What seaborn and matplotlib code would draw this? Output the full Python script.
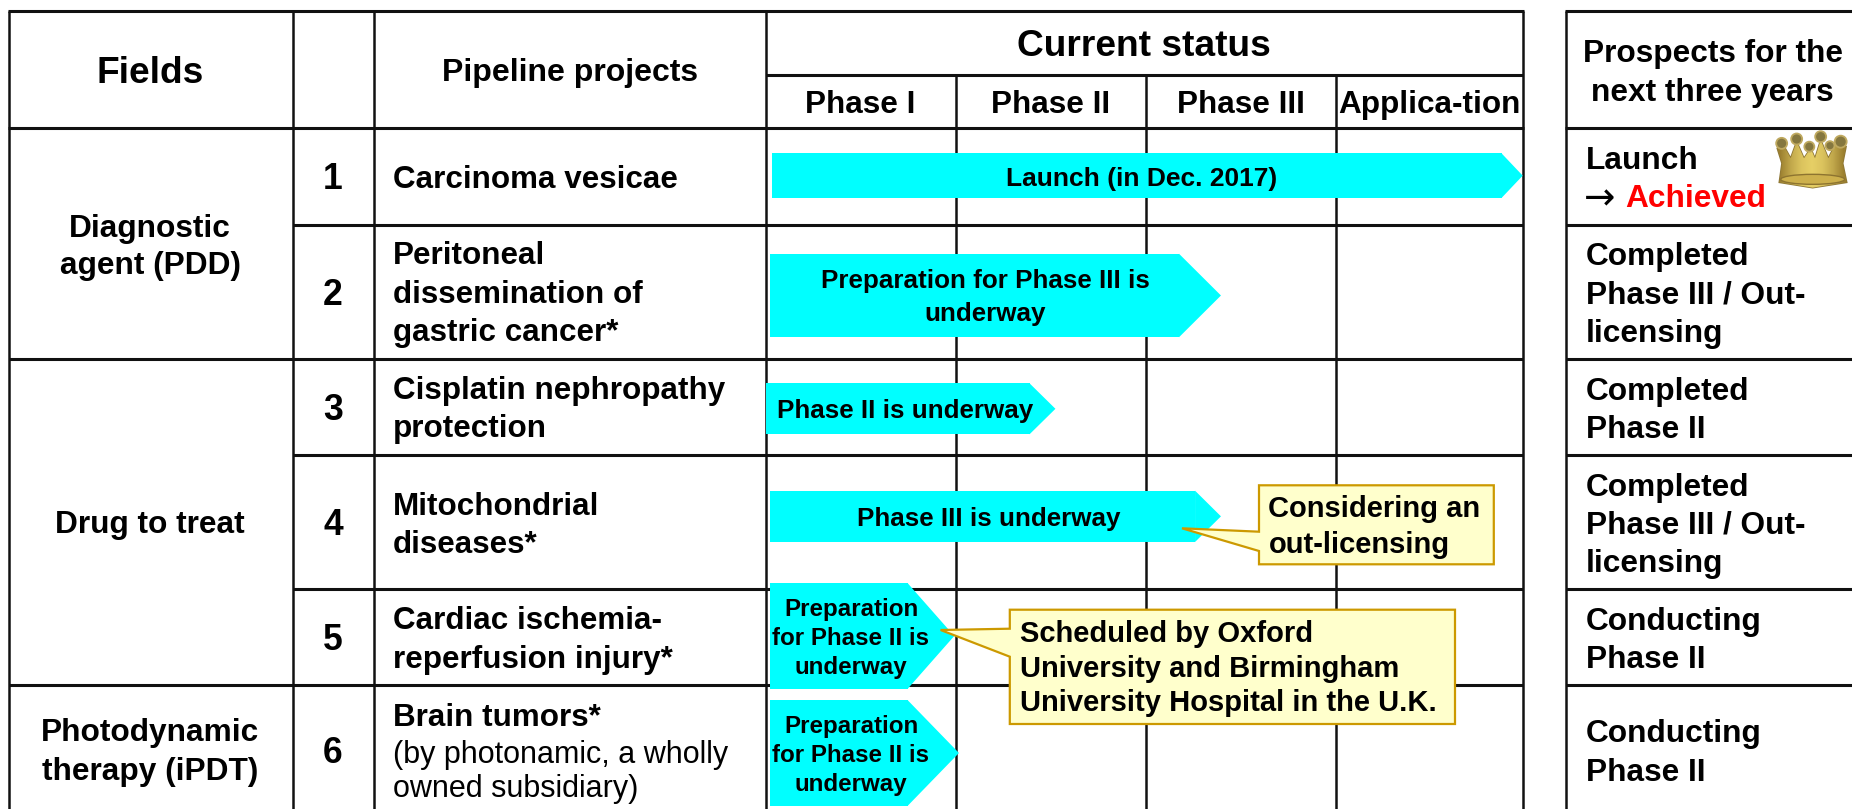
import numpy as np
import pandas as pd
import matplotlib
matplotlib.use("Agg")
import matplotlib.pyplot as plt
from matplotlib.patches import Polygon, Ellipse, Circle
import seaborn as sns

# ---- content ----
fields = [("Diagnostic", 236.7), ("agent (PDD)", 274), ("Drug to treat", 533),
          ("Photodynamic", 740.7), ("therapy (iPDT)", 780)]
numbers = ["1", "2", "3", "4", "5", "6"]
number_baselines = [189, 305, 420, 535, 650, 762.7]
projects = [("Carcinoma vesicae", 188.3), ("Peritoneal", 264), ("dissemination of", 302.7),
            ("gastric cancer*", 340.7), ("Cisplatin nephropathy", 399.3), ("protection", 437.3),
            ("Mitochondrial", 515), ("diseases*", 552.7), ("Cardiac ischemia-", 629),
            ("reperfusion injury*", 667.7), ("Brain tumors*", 726)]
project_notes = [("(by photonamic, a wholly", 762.7), ("owned subsidiary)", 796.7)]
phases = ["Phase I", "Phase II", "Phase III", "Applica-tion"]
phase_centres = [860.5, 1051, 1240.6, 1429]
prospects_head = [("Prospects for the", 62.3), ("next three years", 100.7)]
prospects = [("Launch", 169.3), ("Completed", 265), ("Phase III / Out-", 303.3), ("licensing", 341.7),
             ("Completed", 400), ("Phase II", 437.7), ("Completed", 496), ("Phase III / Out-", 533.3),
             ("licensing", 572.3), ("Conducting", 630), ("Phase II", 667.7),
             ("Conducting", 741.7), ("Phase II", 780.7)]

# progress arrows, in phase units (0 = start of Phase I, 4 = end of Application)
arrow_start = [0.03, 0.02, 0.0, 0.02, 0.02, 0.02]
arrow_shoulder = [3.89, 2.185, 1.395, 2.27, 0.75, 0.75]
arrow_tip = [4.0, 2.405, 1.53, 2.405, 0.995, 1.02]
arrow_top = [153.3, 253.7, 383.3, 490.7, 583, 700]
arrow_bottom = [198, 337.3, 434.3, 542, 689, 806]
arrow_labels = [[("Launch (in Dec. 2017)", 1142, 186)],
                [("Preparation for Phase III is", 985, 288.3), ("underway", 985, 320.7)],
                [("Phase II is underway", 905, 418)],
                [("Phase III is underway", 989, 526)],
                [("Preparation", 851, 616), ("for Phase II is", 851, 645), ("underway", 851, 674)],
                [("Preparation", 851, 733), ("for Phase II is", 851, 762), ("underway", 851, 790.7)]]

callout_lines = [[("Considering an", 517.3), ("out-licensing", 552.7)],
                 [("Scheduled by Oxford", 641.7), ("University and Birmingham", 676.7),
                  ("University Hospital in the U.K.", 711)]]

# ---- table layout (pixels) ----
W, H = 1852, 809
X_L, X_F, X_N, X_P, X_R = 8.5, 292.5, 373.6, 766, 1522.7
X_PH = [955.5, 1145.6, 1335.6]
X_RT = 1565.7
Y_TOP, Y_PH, Y_HEAD = 11, 75, 128
Y_ROWS = [224.5, 359, 455, 589.3, 685]
Y_FIELD = [359, 685]
CYAN = "#00FFFF"

sns.set_theme(style="white")
plt.rcParams["font.family"] = ["Liberation Sans", "DejaVu Sans"]

fig = plt.figure(figsize=(W / 100, H / 100), dpi=100, facecolor="white")
ax = fig.add_axes([0, 0, 1, 1], zorder=1)
ax_ph = fig.add_axes([X_P / W, 0, (X_R - X_P) / W, 1], zorder=2)
ax_top = fig.add_axes([0, 0, 1, 1], zorder=3)
ax_ph.patch.set_alpha(0)
ax_top.patch.set_alpha(0)

LW = 1.8


def hl(y, x0, x1, lw=LW + 0.4):
    ax.plot([x0, x1], [y, y], color="#111111", lw=lw, solid_capstyle="butt")


def vl(x, y0, y1=H):
    ax.plot([x, x], [y0, y1], color="#111111", lw=LW, solid_capstyle="butt")


# grid
hl(Y_TOP, X_L - 1, X_R + 1)
hl(Y_TOP, X_RT - 1, W)
hl(Y_HEAD, X_L - 1, X_R + 1)
hl(Y_HEAD, X_RT - 1, W)
hl(Y_PH, X_P, X_R)
for y in Y_ROWS:
    hl(y, X_F, X_R)
    hl(y, X_RT, W)
for y in Y_FIELD:
    hl(y, X_L, X_F)
for x in [X_L, X_F, X_N, X_P, X_R, X_RT]:
    vl(x, Y_TOP)
for x in X_PH:
    vl(x, Y_PH)


def t(a, x, y, s, size, ha="left", weight="bold", color="black"):
    a.text(x, y, s, fontsize=size, ha=ha, va="baseline", fontweight=weight, color=color)


# headers
t(ax, 150, 83.3, "Fields", 26.7, "center")
t(ax, 570, 81, "Pipeline projects", 23, "center")
t(ax, 1144, 56, "Current status", 26.7, "center")
for name, cx_ in zip(phases, phase_centres):
    t(ax, cx_, 113, name, 22.7, "center")
for s, y in prospects_head:
    t(ax, 1712.7, y, s, 22.8, "center")

# row text
for s, y in fields:
    t(ax, 150, y, s, 22.8, "center")
for s, y in zip(numbers, number_baselines):
    t(ax, 333, y, s, 25.6, "center")
for s, y in projects:
    t(ax, 393, y, s, 22.6)
for s, y in project_notes:
    t(ax, 393, y, s, 22, weight="normal")
for s, y in prospects:
    t(ax, 1585.7, y, s, 22.8)
ax.text(1584, 209, "\u2192", fontsize=27, ha="left", va="baseline", family="DejaVu Sans", color="black")
t(ax, 1625, 207.3, "Achieved", 22.8, color="#FF0000")

# progress arrows: shaft as a seaborn bar, head as a triangle
for x0, xs, xt, y0, y1 in zip(arrow_start, arrow_shoulder, arrow_tip, arrow_top, arrow_bottom):
    yc = (y0 + y1) / 2
    frame = pd.DataFrame({"length": [xs - x0], "row": [yc]})
    sns.barplot(data=frame, x="length", y="row", orient="h", native_scale=True,
                width=y1 - y0, left=x0, color=CYAN, saturation=1, linewidth=0, ax=ax_ph)
    trans = ax_ph.transData
    ax_ph.add_patch(Polygon([[xs - 0.002, y0], [xt, yc], [xs - 0.002, y1]], closed=True,
                            facecolor=CYAN, edgecolor="none", transform=trans))

for lines in arrow_labels[:4]:
    for s, x, y in lines:
        t(ax_top, x, y, s, 18.7 if s != "Launch (in Dec. 2017)" else 19, "center")
for lines in arrow_labels[4:]:
    for s, x, y in lines:
        t(ax_top, x, y, s, 17.4, "center")

# callouts
def callout(x0, x1, y0, y1, tip, a0, a1):
    pts = [[x0, y0], [x1, y0], [x1, y1], [x0, y1], [x0, a1], tip, [x0, a0]]
    ax_top.add_patch(Polygon(pts, closed=True, facecolor="#FFFFCC", edgecolor="#CC9900",
                             lw=1.6, joinstyle="miter"))


callout(1259, 1493.8, 485.3, 564.3, (1182, 528.3), 531.7, 551)
callout(1009.8, 1455, 609.7, 724, (940.6, 630), 628.7, 656.7)
for s, y in callout_lines[0]:
    t(ax_top, 1268.5, y, s, 21)
for s, y in callout_lines[1]:
    t(ax_top, 1019.7, y, s, 21)

# crown
def cx(v):
    return 1770 + v / 3


def cy(v):
    return 125 + v / 3


crown_outline = [(22, 70), (40, 60), (62, 100), (80, 50), (102, 100), (122, 70), (135, 100), (152, 45),
                 (175, 100), (195, 60), (228, 65), (218, 115), (230, 172), (128, 188), (28, 172), (36, 115)]
poly_pts = [(cx(a), cy(b)) for a, b in crown_outline]
grad = np.array([[0.0, 0.5, 0.85, 1.0, 0.85, 0.5, 0.0]])
cm = matplotlib.colors.LinearSegmentedColormap.from_list("gold", ["#9C8030", "#E6CF66"])
body = Polygon(poly_pts, closed=True, facecolor="none", edgecolor="#8D7635", lw=1.2)
ax_top.add_patch(body)
im = ax_top.imshow(grad, cmap=cm, extent=(cx(15), cx(235), cy(195), cy(30)), aspect="auto",
                   interpolation="bilinear", zorder=1.5)
im.set_clip_path(body)
ax_top.add_patch(Ellipse((cx(128), cy(163)), 64, 10, facecolor="#CDB04C", edgecolor="#8D7430",
                         lw=1, zorder=2))
for a, b, r in [(35, 55, 5.5), (80, 42, 5.5), (118, 65, 5.0), (152, 35, 5.5), (180, 62, 4.5), (212, 50, 6)]:
    ax_top.add_patch(Circle((cx(a), cy(b)), r, facecolor="#85773F", edgecolor="#BFA95F",
                            lw=1.3, zorder=2))

for a in (ax, ax_top):
    a.set_xlim(0, W)
    a.set_ylim(H, 0)
ax_ph.set_xlim(0, 4)
ax_ph.set_ylim(H, 0)
for a in (ax, ax_ph, ax_top):
    a.set_xlabel("")
    a.set_ylabel("")
    a.axis("off")

fig.savefig("out.png", dpi=100, facecolor="white")
